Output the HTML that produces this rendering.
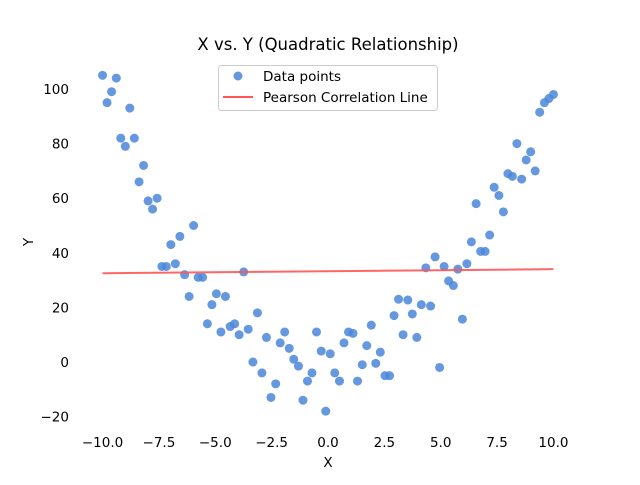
<!DOCTYPE html>
<html><head><meta charset="utf-8"><style>
body{margin:0;background:#fff}
svg text{font-family:"DejaVu Sans","Liberation Sans",sans-serif;fill:#000}
</style></head><body>
<svg id="chart" width="640" height="480" viewBox="0 0 640 480">
<rect width="640" height="480" fill="#fff"/>
<text x="328" y="50" font-size="16.5" text-anchor="middle">X vs. Y (Quadratic Relationship)</text>
<g id="xticks"></g><g id="yticks"></g>
<text x="328" y="467" font-size="13.5" text-anchor="middle">X</text>
<text x="33" y="242" font-size="13.5" text-anchor="middle" transform="rotate(-90 33 242)">Y</text>
<g id="plot"></g>
<g>
<rect x="218.5" y="65.5" width="219" height="45" rx="3" fill="#fff" fill-opacity="0.8" stroke="#ccc"/>
<circle cx="238" cy="76" r="4.5" fill="#4a86d9" fill-opacity="0.85"/>
<text x="263" y="81" font-size="13.5">Data points</text>
<line x1="223" y1="97" x2="253" y2="97" stroke="#ff5555" stroke-width="2"/>
<text x="263" y="102" font-size="13.5">Pearson Correlation Line</text>
</g>
</svg>
<script>
const xs=[-10,-9.8,-9.6,-9.39,-9.19,-8.99,-8.79,-8.59,-8.38,-8.18,-7.98,-7.78,-7.58,-7.37,-7.17,-6.97,-6.77,-6.57,-6.36,-6.16,-5.96,-5.76,-5.56,-5.35,-5.15,-4.95,-4.75,-4.55,-4.34,-4.14,-3.94,-3.74,-3.54,-3.33,-3.13,-2.93,-2.73,-2.53,-2.32,-2.12,-1.92,-1.72,-1.52,-1.31,-1.11,-0.91,-0.71,-0.51,-0.3,-0.1,0.1,0.3,0.51,0.71,0.91,1.11,1.31,1.52,1.72,1.92,2.12,2.32,2.53,2.73,2.93,3.13,3.33,3.54,3.74,3.94,4.14,4.34,4.55,4.75,4.95,5.15,5.35,5.56,5.76,5.96,6.16,6.36,6.57,6.77,6.97,7.17,7.37,7.58,7.78,7.98,8.18,8.38,8.59,8.79,8.99,9.19,9.39,9.6,9.8,10];
const ys=[105,95,99,104,82,79,93,82,66,72,59,56,60,35,35,43,36,46,32,24,50,31,31,14,21,25,11,24,13,14,10,33,12,0,18,-4,9,-13,-8,7,11,5,1,-1.5,-14,-7,-4,11,4,-18,3,-4,-7,7,11,10.5,-7,-1,6,13.5,-0.5,3.6,-5,-5,17,23,10,22.7,17.6,9,21,34.5,20.5,38.5,-2,35,29.7,28,34,15.7,36,44,58,40.5,40.5,46.5,64,61,55,69,68,80,67,74,77,70,91.5,95,96.5,98];
const lineX=[-10,10];
const lineY=[32.5,34];
const xTicks=[-10,-7.5,-5,-2.5,0,2.5,5,7.5,10];
const xTickLabels=["\u221210.0","\u22127.5","\u22125.0","\u22122.5","0.0","2.5","5.0","7.5","10.0"];
const yTicks=[-20,0,20,40,60,80,100];
const yTickLabels=["\u221220","0","20","40","60","80","100"];
const NS="http://www.w3.org/2000/svg";
function sx(x){return 80+(x+11)*22.545;}
function sy(y){return 362-y*2.73;}
const plot=document.getElementById('plot');
xs.forEach((x,i)=>{
 const c=document.createElementNS(NS,'circle');
 c.setAttribute('cx',sx(x));c.setAttribute('cy',sy(ys[i]));c.setAttribute('r',4.5);
 c.setAttribute('fill','#4a86d9');c.setAttribute('fill-opacity','0.85');
 
 
 plot.appendChild(c);
});
const l=document.createElementNS(NS,'line');
l.setAttribute('x1',sx(lineX[0]));l.setAttribute('y1',sy(lineY[0]));
l.setAttribute('x2',sx(lineX[1]));l.setAttribute('y2',sy(lineY[1]));
l.setAttribute('stroke','#ff5555');l.setAttribute('stroke-width','2');l.setAttribute('stroke-opacity','0.9');


plot.appendChild(l);
const xg=document.getElementById('xticks');
xTicks.forEach((v,i)=>{
 const t=document.createElementNS(NS,'text');
 t.setAttribute('x',sx(v));t.setAttribute('y',447);t.setAttribute('font-size','13.5');t.setAttribute('text-anchor','middle');
 t.textContent=xTickLabels[i];
 
 
 xg.appendChild(t);
});
const yg=document.getElementById('yticks');
yTicks.forEach((v,i)=>{
 const t=document.createElementNS(NS,'text');
 t.setAttribute('x',69);t.setAttribute('y',sy(v)+5);t.setAttribute('font-size','13.5');t.setAttribute('text-anchor','end');
 t.textContent=yTickLabels[i];
 
 
 yg.appendChild(t);
});
</script>
</body></html>
